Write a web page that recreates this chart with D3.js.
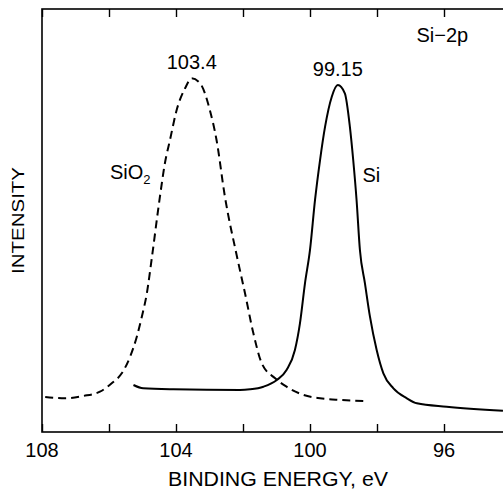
<!DOCTYPE html>
<html>
<head>
<meta charset="utf-8">
<script src="https://cdn.jsdelivr.net/npm/d3@7"></script>
<style>
html,body{margin:0;padding:0;background:#fff;}
svg{display:block;}
text{font-family:"Liberation Sans",Arial,Helvetica,sans-serif;fill:#000;}
</style>
</head>
<body>
<script>
// ---- data ----
const sio2Energy = [108, 107.31, 106.77, 106.27, 105.92, 105.62, 105.37, 105.17, 105.02, 104.87, 104.73, 104.48, 104.33, 104.18, 103.98, 103.73, 103.53, 103.28, 102.99, 102.79, 102.54, 102.19, 101.94, 101.69, 101.44, 101.04, 100.70, 100.25, 99.70, 99.10, 98.41];
const sio2Intensity = [8.35, 7.97, 8.51, 9.53, 11.51, 13.88, 17.8, 22.53, 27.26, 32.79, 40.66, 55.63, 63.59, 69.03, 76.12, 81.25, 83.62, 82.44, 76.12, 69.03, 55.63, 41.84, 32.79, 23.33, 16.24, 12.69, 10.71, 8.91, 7.97, 7.57, 7.33];
const siEnergy = [105.27, 104.98, 104.08, 102.09, 101.79, 101.39, 100.99, 100.70, 100.45, 100.30, 100.15, 100.00, 99.85, 99.70, 99.55, 99.35, 99.17, 98.96, 98.81, 98.71, 98.61, 98.51, 98.36, 98.21, 98.01, 97.81, 97.51, 97.11, 96.81, 95.92, 94.24];
const siIntensity = [11.11, 10.33, 10.09, 9.93, 10.09, 10.71, 12.29, 14.66, 19.39, 25.7, 35.15, 43.03, 54.85, 64.3, 72.18, 79.27, 82.03, 80.07, 72.18, 64.3, 54.85, 43.03, 35.15, 27.26, 19.39, 13.88, 10.33, 7.97, 6.78, 5.98, 5.04];
const majorTicks = [108, 104, 100, 96];
const minorTicks = [106, 102, 98, 94];
const peakLabels = [{e: 103.4, text: "103.4", x: 103.53, i: 83.62}, {e: 99.15, text: "99.15", x: 99.17, i: 82.03}];
const xTitle = "BINDING ENERGY,  eV";
const yTitle = "INTENSITY";
const panelLabel = "Si\u22122p";

// ---- layout ----
const W = 503, H = 490;
const svg = d3.select("body").append("svg").attr("width", W).attr("height", H);
const x = d3.scaleLinear().domain([108, 92]).range([42, 578]);
const y = d3.scaleLinear().domain([0, 100]).range([432, 9]);

// frame
const g = svg.append("g");
g.append("rect").attr("x", x(108)).attr("y", y(100))
  .attr("width", x(92) - x(108)).attr("height", y(0) - y(100))
  .attr("fill", "none").attr("stroke", "#000").attr("stroke-width", 1.6);

const allTicks = majorTicks.concat(minorTicks);
// bottom axis ticks (inward)
const bottomAxis = d3.axisBottom(x).tickValues(allTicks).tickSizeInner(-8).tickSizeOuter(0).tickFormat("");
const ba = svg.append("g").attr("transform", `translate(0,${y(0)})`).call(bottomAxis);
ba.select(".domain").remove();
ba.selectAll(".tick line").attr("stroke", "#000").attr("stroke-width", 1.4);
const topAxis = d3.axisTop(x).tickValues(allTicks).tickSizeInner(-8).tickSizeOuter(0).tickFormat("");
const ta = svg.append("g").attr("transform", `translate(0,${y(100)})`).call(topAxis);
ta.select(".domain").remove();
ta.selectAll(".tick line").attr("stroke", "#000").attr("stroke-width", 1.4);

// tick labels
svg.selectAll(".xlab").data(majorTicks).enter().append("text")
  .attr("x", d => x(d)).attr("y", 457).attr("text-anchor", "middle")
  .attr("font-size", 20).text(d => d);

// axis titles
svg.append("text").attr("x", 278).attr("y", 486).attr("text-anchor", "middle")
  .attr("font-size", 20).attr("textLength", 220).attr("lengthAdjust", "spacingAndGlyphs").text(xTitle);
svg.append("text").attr("transform", "translate(23.5,220.5) rotate(-90)")
  .attr("text-anchor", "middle").attr("font-size", 17)
  .attr("textLength", 107).attr("lengthAdjust", "spacingAndGlyphs").text(yTitle);

// curves
const line = d3.line().x(d => x(d[0])).y(d => y(d[1])).curve(d3.curveMonotoneX);
const sio2 = sio2Energy.map((e, i) => [e, sio2Intensity[i]]).sort((a, b) => a[0] - b[0]);
const si = siEnergy.map((e, i) => [e, siIntensity[i]]).sort((a, b) => a[0] - b[0]);

const clip = svg.append("clipPath").attr("id", "clip").append("rect")
  .attr("x", x(108)).attr("y", y(100)).attr("width", x(92) - x(108)).attr("height", y(0) - y(100));

svg.append("path").datum(sio2).attr("d", line).attr("fill", "none")
  .attr("stroke", "#000").attr("stroke-width", 2).attr("stroke-dasharray", "8,5")
  .attr("clip-path", "url(#clip)");
svg.append("path").datum(si).attr("d", line).attr("fill", "none")
  .attr("stroke", "#000").attr("stroke-width", 2)
  .attr("clip-path", "url(#clip)");

// peak labels
svg.selectAll(".pk").data(peakLabels).enter().append("text")
  .attr("x", d => x(d.x)).attr("y", d => y(d.i) - 9)
  .attr("text-anchor", "middle").attr("font-size", 20).text(d => d.text);

// series labels
const sl = svg.append("text").attr("x", 110).attr("y", 178.5).attr("font-size", 20);
sl.append("tspan").text("SiO");
sl.append("tspan").attr("font-size", 13).attr("dy", 5).text("2");
svg.append("text").attr("x", 362.5).attr("y", 182).attr("font-size", 20).text("Si");
svg.append("text").attr("x", 416.5).attr("y", 41.5).attr("font-size", 20).text(panelLabel);
</script>
</body>
</html>
